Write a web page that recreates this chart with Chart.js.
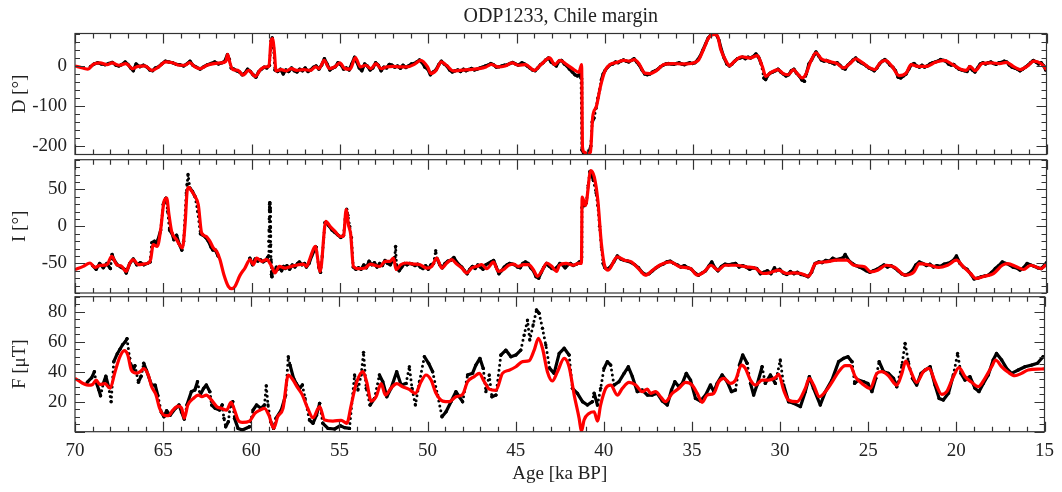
<!DOCTYPE html>
<html>
<head>
<meta charset="utf-8">
<title>ODP1233, Chile margin</title>
<script src="https://cdn.jsdelivr.net/npm/chart.js@4.4.1/dist/chart.umd.min.js"></script>
<style>
  body { margin: 0; background: #fff; }
  #wrap { position: relative; width: 1062px; height: 492px; }
  #wrap canvas { position: absolute; left: 0; top: 0; }
</style>
</head>
<body>
<div id="wrap">
  <canvas id="chartD" width="1062" height="492"></canvas>
  <canvas id="chartI" width="1062" height="492"></canvas>
  <canvas id="chartF" width="1062" height="492"></canvas>
</div>
<script>
// tick labels
const dTicks = [-200, -100, 0];
const iTicks = [-50, 0, 50];
const fTicks = [20, 40, 60, 80];

// declination: smoothed model [age ka, deg]
const dModel = [
  [70,0],[69.56,-5],[69.27,-8],[68.97,4],[68.58,7.5],[68.19,3],[67.9,7.5],[67.51,1.7],[67.12,6],[66.73,-6.7],
  [66.44,-1],[66.04,0],[65.65,-11],[65.26,-2.5],[64.87,10],[64.48,8],[64.09,1.7],[63.8,1.7],[63.51,8.3],[63.21,-2.5],
  [62.92,-6.7],[62.53,1.7],[62.14,6],[61.75,7.5],[61.46,11.7],[61.36,29],[61.27,14],[61.07,-9],[60.77,-11],[60.48,-23],
  [60.18,-11],[59.79,-26],[59.5,-9],[59.21,-2.5],[59.02,-1],[58.9,64],[58.82,68],[58.72,39],[58.62,-12.5],[58.33,-9],
  [58.04,-12.5],[57.75,-6.7],[57.45,-11],[57.06,-9],[56.67,-11],[56.38,-2.5],[56.18,-6.7],[55.89,14],[55.6,-6.7],[55.3,-2.5],
  [55.01,7.5],[54.72,-6.7],[54.42,-8],[54.13,21],[53.84,-2.5],[53.55,1.7],[53.25,-6.7],[52.96,6],[52.67,-6.7],[52.38,-2.5],
  [51.99,-1],[51.6,-2.5],[51.21,-2.5],[50.82,3.3],[50.43,14],[50.04,-2.5],[49.85,-19],[49.56,-11],[49.26,10],[48.97,1.7],
  [48.58,-12.5],[48.19,-11],[47.7,-9],[47.12,-6.7],[46.73,-2.5],[46.43,4],[46.04,-2.5],[45.65,0],[45.26,7.5],[44.87,1.7],
  [44.5,3.4],[44.0,-11],[43.62,3.4],[43.13,20],[42.84,3.4],[42.55,14],[42.16,3.4],[41.76,-9],[41.47,-16],[41.32,3.4],
  [41.27,-203],[41.18,-215],[40.98,-219],[40.82,-215],[40.69,-127],[40.49,-102],[40.25,-51],[40.0,-13],[39.71,3.4],[39.31,9],
  [38.92,14],[38.63,12],[38.33,16],[38.04,3.4],[37.75,-18],[37.45,-19],[37.06,-11],[36.67,3.4],[36.18,6],[35.59,5],
  [35.0,7.6],[34.71,14],[34.42,41],[34.12,70.6],[33.83,79],[33.63,75],[33.44,41],[33.14,12],[32.95,1],[32.65,12],
  [32.26,23],[31.77,20],[31.38,26],[31.09,-1],[30.89,-26],[30.6,-16],[30.2,-9],[29.91,-19],[29.62,-22],[29.32,-9],
  [29.13,-18],[28.83,-30],[28.64,-22],[28.34,12],[28.05,33],[27.75,18],[27.36,12],[26.87,6],[26.48,-5],[26.09,7.6],
  [25.8,18],[25.4,7.6],[25.01,-5],[24.72,-9],[24.42,7.6],[24.13,14],[23.74,-1],[23.35,-24],[22.95,-18],[22.66,3.4],
  [22.27,-1],[21.78,-1],[21.29,9],[20.8,14],[20.31,3.4],[19.82,-9],[19.53,-11],[19.33,-1],[19.04,-12],[18.64,6],
  [18.15,7.6],[17.66,6],[17.27,9],[16.88,-1],[16.49,-9],[16.1,-1],[15.71,12],[15.32,6],[15.0,-9]
];

// declination: measurements
const dData = [
  [69.13,-2],[68.92,5],[68.72,8],[68.51,5],[68.3,3],[68.09,6],[67.89,9],[67.68,2],[67.52,0],[67.37,3],
  [67.16,10],[67.0,4],[66.85,-5],[66.7,-12],[66.54,5],[66.33,-2],[66.13,2],[65.92,-3],[65.77,-10],[65.61,-12],
  [65.45,-5],[65.3,-3],[65.09,5],[64.89,12],[64.68,10],[64.47,8],[64.27,4],[64.06,3],[63.85,0],[63.64,6],
  [63.49,12],[63.33,2],[63.13,-3],[62.92,-8],[62.71,-2],[62.5,3],[62.3,6],[62.09,10],[61.88,5],[61.68,8],
  [61.52,12],[61.37,28],[61.26,16],[61.16,-5],[61.0,-8],[60.85,-12],[60.69,-15],[60.54,-22],[60.38,-18],[60.23,-8],
  [60.07,-14],[59.92,-22],[59.76,-28],[59.61,-15],[59.45,-8],[59.3,-3],[59.14,-5],[58.99,2],[58.9,62],[58.83,70],
  [58.76,45],[58.68,-10],[58.52,-14],[58.37,-8],[58.21,-20],[58.06,-10],[57.9,-14],[57.74,-5],[57.59,-12],[57.43,-15],
  [57.28,-8],[57.12,-12],[56.97,-5],[56.81,-14],[56.66,-10],[56.5,-3],[56.35,0],[56.19,-8],[56.04,2],[55.88,18],
  [55.73,5],[55.57,-10],[55.41,-5],[55.26,-2],[55.11,8],[54.95,3],[54.79,-8],[54.64,-5],[54.48,-10],[54.33,5],
  [54.17,22],[54.07,12],[53.91,-5],[53.76,-12],[53.6,5],[53.45,0],[53.29,-10],[53.14,-5],[52.98,8],[52.83,2],
  [52.67,-12],[52.52,-3],[52.36,-5],[52.21,4],[52.05,2],[51.9,-3],[51.74,0],[51.58,-6],[51.43,2],[51.27,-4],
  [51.12,0],[50.96,5],[50.81,6],[50.65,10],[50.5,15],[50.34,8],[50.19,-3],[50.03,-8],[49.88,-22],[49.72,-15],
  [49.57,-10],[49.41,3],[49.26,12],[49.1,5],[48.95,0],[48.79,-10],[48.64,-15],[48.48,-12],[48.33,-10],[48.17,-14],
  [48.01,-8],[47.86,-12],[47.71,-9],[47.55,-6],[47.39,-10],[47.24,-8],[47.08,-5],[46.93,-3],[46.77,0],[46.62,2],
  [46.46,6],[46.31,3],[46.15,-3],[45.99,-2],[45.84,0],[45.68,2],[45.53,3],[45.37,6],[45.22,9],[45.06,5],
  [44.91,2],[44.7,8],[44.55,5],[44.4,0],[44.25,-5],[44.1,-10],[43.95,-12],[43.8,-5],[43.65,3],[43.5,8],
  [43.35,15],[43.2,20],[43.05,10],[42.9,5],[42.75,0],[42.6,12],[42.45,14],[42.3,5],[42.15,0],[42.0,-8],
  [41.85,-15],[41.7,-22],[41.55,-25],[41.42,-20],[41.35,-30],[41.3,-210],[41.2,-218],[41.1,-220],[41.0,-219],[40.9,-215],
  [40.8,-200],[40.72,-140],[40.62,-130],[40.5,-105],[40.4,-80],[40.3,-60],[40.2,-35],[40.1,-20],[40.0,-12],[39.85,-3],
  [39.7,3],[39.55,5],[39.4,10],[39.25,8],[39.1,12],[38.95,15],[38.8,12],[38.65,10],[38.5,14],[38.35,18],
  [38.2,10],[38.05,2],[37.9,-10],[37.75,-20],[37.6,-22],[37.45,-20],[37.3,-15],[37.15,-12],[37.0,-8],[36.85,-2],
  [36.7,2],[36.55,5],[36.4,6],[36.25,5],[36.1,4],[35.95,6],[35.8,8],[35.65,5],[35.5,3],[35.35,6],
  [35.2,8],[35.05,6],[34.9,8],[34.75,15],[34.6,25],[34.45,40],[34.3,55],[34.15,70],[34.0,78],[33.85,80],
  [33.7,79],[33.55,65],[33.4,40],[33.25,20],[33.1,5],[32.95,0],[32.8,5],[32.65,12],[32.5,18],[32.35,20],
  [32.2,22],[32.05,18],[31.9,22],[31.75,20],[31.6,24],[31.45,30],[31.3,22],[31.15,5],[31.0,-30],[30.9,-34],
  [30.8,-25],[30.65,-18],[30.5,-15],[30.35,-12],[30.2,-8],[30.05,-15],[29.9,-20],[29.75,-25],[29.6,-22],[29.45,-12],
  [29.3,-8],[29.15,-18],[29.0,-25],[28.85,-35],[28.7,-38],[28.6,-20],[28.45,5],[28.3,15],[28.15,28],[28.05,35],
  [27.9,25],[27.75,15],[27.6,12],[27.45,14],[27.3,10],[27.15,8],[27.0,5],[26.85,8],[26.7,2],[26.55,-5],
  [26.4,-8],[26.25,2],[26.1,8],[25.95,15],[25.8,20],[25.65,12],[25.5,8],[25.35,5],[25.2,0],[25.05,-5],
  [24.9,-8],[24.75,-12],[24.6,-5],[24.45,5],[24.3,12],[24.15,16],[24.0,10],[23.85,2],[23.7,-3],[23.55,-12],
  [23.4,-28],[23.25,-30],[23.1,-25],[22.95,-20],[22.8,-8],[22.65,3],[22.5,6],[22.35,0],[22.2,-3],[22.05,2],
  [21.9,-3],[21.75,0],[21.6,5],[21.45,8],[21.3,10],[21.15,12],[21.0,16],[20.85,14],[20.7,12],[20.55,5],
  [20.4,2],[20.25,4],[20.1,-3],[19.95,-8],[19.8,-10],[19.65,-12],[19.5,-14],[19.35,-2],[19.2,-10],[19.05,-15],
  [18.9,-5],[18.75,5],[18.6,8],[18.45,5],[18.3,8],[18.15,10],[18.0,6],[17.85,4],[17.7,8],[17.55,9],
  [17.4,12],[17.25,10],[17.1,2],[16.95,-3],[16.8,-5],[16.65,-8],[16.5,-12],[16.35,-8],[16.2,-3],[16.05,2],
  [15.9,8],[15.75,14],[15.6,10],[15.45,5],[15.3,8],[15.15,0],[15.05,-10]
];

// inclination: smoothed model
const iModel = [
  [70,-58.5],[69.53,-54],[69.15,-49.5],[68.87,-55.4],[68.58,-52.7],[68.2,-51.8],[67.92,-40.5],[67.64,-51.8],[67.36,-54],[67.11,-60.8],
  [66.89,-49.5],[66.7,-45],[66.42,-51.8],[66.13,-50.9],[65.85,-49.5],[65.72,-45],[65.57,-24.8],[65.34,-27],[65.15,-4.5],[64.96,33.7],
  [64.81,38.2],[64.68,15.7],[64.53,-6.8],[64.25,-18],[63.92,-29.2],[63.77,2.2],[63.64,49.5],[63.55,52.6],[63.45,49.5],[63.21,40.5],
  [63.02,29.2],[62.83,-9],[62.58,-13.5],[62.36,-20.2],[62.17,-29.2],[61.98,-33.7],[61.79,-45],[61.57,-65.3],[61.32,-81],[61.13,-84.2],
  [60.94,-81],[60.66,-66.2],[60.38,-56.3],[60.09,-45],[59.91,-51.8],[59.72,-42.8],[59.43,-47.3],[59.15,-45],[58.87,-54],[58.68,-63],
  [58.43,-54],[58.11,-56.3],[57.74,-54],[57.36,-51.8],[57.08,-50.9],[56.89,-54],[56.69,-42.8],[56.4,-27],[56.12,-60.8],[55.8,6.8],
  [55.56,0],[55.28,-6.8],[54.99,-13.5],[54.8,-13.5],[54.65,22.5],[54.52,2.2],[54.39,-11.3],[54.24,-54],[53.95,-57.2],[53.58,-56.3],
  [53.29,-50.9],[53.01,-52.7],[52.73,-54],[52.44,-47.3],[52.16,-47.3],[51.97,-42.8],[51.82,-58.5],[51.56,-51.8],[51.22,-49.5],[50.84,-50.9],
  [50.46,-51.8],[50.09,-56.3],[49.8,-54],[49.52,-42.8],[49.24,-56.3],[48.95,-49.5],[48.67,-45],[48.39,-50.9],[48.1,-56.3],[47.82,-63],
  [47.54,-56.3],[47.26,-54],[46.97,-51.8],[46.69,-57.2],[46.31,-48.2],[46.03,-60.8],[45.75,-58.5],[45.46,-52.7],[45.18,-50.9],[44.9,-54],
  [44.61,-51.8],[44.33,-51.8],[44.05,-58.5],[43.82,-67.5],[43.58,-60.8],[43.29,-49.5],[43.01,-54],[42.73,-60.8],[42.58,-52.7],[42.2,-50],
  [41.8,-52.5],[41.5,-50],[41.33,-50],[41.29,39.5],[41.1,28.3],[40.8,75.3],[40.6,66.4],[40.4,35],[40.2,-23.3],[40.0,-54.7],
  [39.82,-59.2],[39.3,-41.3],[38.9,-45.7],[38.5,-48],[38.1,-57],[37.7,-65.9],[37.3,-59.2],[36.9,-52.5],[36.3,-48],[35.75,-54.7],
  [35.16,-57],[34.77,-65.9],[34.38,-61.4],[33.99,-52.5],[33.6,-59.2],[33.2,-52.5],[32.6,-52.5],[32.0,-54.7],[31.45,-57],[31.06,-63.7],
  [30.67,-62.8],[30.18,-59.2],[29.7,-63.7],[29.3,-62.8],[28.9,-63.7],[28.47,-67.3],[28.08,-50.2],[27.5,-48],[26.9,-45.7],[26.3,-45.7],
  [25.9,-52.5],[25.3,-54.7],[24.95,-61.4],[24.56,-59.2],[24.07,-52.5],[23.58,-55.6],[23.0,-65.9],[22.5,-61.4],[22.2,-50.2],[21.6,-52.5],
  [21.1,-55.6],[20.6,-52.5],[20.1,-45.7],[19.7,-54.7],[19.3,-63.7],[19.0,-70.4],[18.5,-67.3],[18.0,-63.7],[17.5,-52.5],[17.2,-50.2],
  [16.7,-54.7],[16.3,-58.3],[15.9,-52.5],[15.3,-57],[15.0,-51]
];

// inclination: measurements
const iData = [
  [69.0,-53],[68.8,-58],[68.6,-50],[68.4,-56],[68.2,-50],[68.0,-57],[67.9,-38],[67.8,-45],[67.6,-52],[67.4,-55],
  [67.2,-58],[67.1,-63],[66.9,-50],[66.7,-44],[66.5,-52],[66.3,-49],[66.1,-52],[65.9,-50],[65.75,-48],[65.65,-22],
  [65.5,-20],[65.4,-26],[65.3,-18],[65.15,-5],[65.0,30],[64.85,38],[64.75,20],[64.65,-5],[64.5,-10],[64.4,-18],
  [64.25,-12],[64.1,-24],[63.95,-32],[63.85,-20],[63.7,45],[63.65,57],[63.6,70],[63.5,52],[63.35,47],[63.2,40],
  [63.05,20],[62.9,-10],[62.75,-12],[62.6,-15],[62.45,-20],[62.3,-28],[62.2,-32],[62.05,-32],[61.9,-40],
  [60.1,-43],[59.95,-52],[59.8,-44],[59.65,-47],[59.5,-45],[59.35,-48],[59.2,-46],[59.1,-42],[59.04,-40],[59.02,-20],
  [59.01,-5],[59.0,10],[58.99,22],[58.98,30],[58.97,32],[58.96,25],[58.95,20],[58.94,-2],[58.93,-13],[58.92,-25],
  [58.91,-34],[58.9,-45],[58.88,-65],[58.85,-68],[58.8,-60],[58.7,-62],[58.6,-55],[58.5,-58],[58.4,-55],[58.3,-60],
  [58.2,-54],[58.1,-57],[58.0,-53],[57.85,-58],[57.7,-52],[57.55,-55],[57.4,-50],[57.3,-48],[57.15,-52],[57.0,-50],
  [56.9,-55],[56.75,-50],[56.6,-40],[56.45,-32],[56.35,-28],[56.2,-55],[56.1,-62],[56.0,-40],[55.85,5],[55.75,4],
  [55.6,0],[55.45,-5],[55.3,-8],[55.1,-12],[54.95,-15],[54.8,-12],[54.7,10],[54.62,23],[54.55,15],[54.45,0],
  [54.35,-15],[54.25,-55],[54.1,-58],[53.95,-56],[53.8,-58],[53.65,-52],[53.5,-56],[53.35,-47],[53.2,-52],[53.05,-49],
  [52.9,-55],[52.75,-50],[52.6,-53],[52.45,-46],[52.3,-50],[52.15,-52],[52.0,-45],[51.9,-42],[51.85,-27],[51.8,-52],
  [51.65,-60],[51.5,-55],[51.35,-50],[51.2,-52],[51.05,-50],[50.9,-51],[50.75,-53],[50.6,-51],[50.45,-55],[50.3,-57],
  [50.15,-53],[50.0,-58],[49.85,-52],[49.7,-50],[49.58,-33],[49.5,-44],[49.35,-52],[49.2,-56],[49.05,-50],[48.9,-47],
  [48.75,-46],[48.55,-42],[48.4,-48],[48.25,-52],[48.1,-55],[47.95,-60],[47.8,-64],[47.65,-58],[47.5,-54],[47.35,-57],
  [47.2,-52],[47.05,-55],[46.9,-58],[46.75,-52],[46.6,-50],[46.45,-48],[46.3,-46],[46.15,-55],[46.0,-64],[45.85,-60],
  [45.7,-55],[45.55,-52],[45.4,-50],[45.25,-51],[45.1,-52],[44.95,-55],[44.8,-56],[44.65,-50],[44.5,-48],[44.35,-50],
  [44.2,-56],[44.05,-60],[43.9,-68],[43.75,-70],[43.6,-62],[43.45,-55],[43.3,-50],[43.15,-54],[43.0,-57],[42.85,-58],
  [42.7,-55],[42.55,-50],[42.4,-52],[42.25,-56],[42.1,-52],[41.95,-50],[41.8,-53],[41.6,-51],[41.45,-48],[41.35,-47],
  [41.3,25],[41.25,35],[41.15,28],[41.05,32],[40.95,55],[40.85,74],[40.75,70],[40.65,62],[40.5,45],[40.4,28],
  [40.3,0],[40.2,-28],[40.1,-50],[40.0,-56],[39.85,-58],[39.7,-55],[39.5,-48],[39.3,-40],[39.1,-44],[38.9,-46],
  [38.7,-47],[38.5,-49],[38.3,-52],[38.1,-56],[37.9,-62],[37.7,-65],[37.5,-64],[37.3,-60],[37.1,-56],[36.9,-53],
  [36.7,-51],[36.5,-48],[36.3,-47],[36.1,-50],[35.9,-52],[35.7,-55],[35.5,-53],[35.3,-56],[35.1,-58],[34.9,-63],
  [34.7,-66],[34.5,-63],[34.3,-60],[34.1,-53],[33.95,-48],[33.8,-55],[33.6,-60],[33.4,-54],[33.2,-51],[33.0,-52],
  [32.8,-51],[32.6,-50],[32.4,-55],[32.2,-53],[32.0,-55],[31.8,-58],[31.6,-56],[31.4,-57],[31.2,-64],[31.0,-62],
  [30.8,-60],[30.6,-64],[30.4,-56],[30.3,-60],[30.1,-58],[29.9,-63],[29.7,-65],[29.5,-61],[29.3,-64],[29.1,-62],
  [28.9,-65],[28.7,-66],[28.5,-68],[28.3,-62],[28.1,-50],[27.9,-48],[27.7,-49],[27.5,-46],[27.3,-47],[27.1,-43],
  [26.9,-45],[26.7,-44],[26.5,-42],[26.4,-38],[26.2,-46],[26.0,-50],[25.8,-53],[25.6,-55],[25.4,-57],[25.2,-60],
  [25.0,-62],[24.8,-60],[24.6,-58],[24.4,-55],[24.2,-52],[24.0,-55],[23.8,-53],[23.6,-56],[23.4,-60],[23.2,-64],
  [23.0,-66],[22.8,-64],[22.6,-60],[22.4,-52],[22.2,-48],[22.0,-50],[21.8,-53],[21.6,-51],[21.4,-55],[21.2,-53],
  [21.0,-54],[20.8,-51],[20.6,-50],[20.4,-48],[20.2,-44],[20.1,-40],[19.9,-50],[19.7,-55],[19.5,-58],[19.3,-64],
  [19.1,-71],[18.9,-70],[18.7,-68],[18.5,-67],[18.3,-66],[18.1,-62],[17.9,-57],[17.7,-53],[17.5,-48],[17.3,-50],
  [17.1,-52],[16.9,-55],[16.7,-56],[16.5,-59],[16.3,-56],[16.1,-50],[15.9,-52],[15.7,-54],[15.5,-56],[15.3,-57],
  [15.1,-52],[15.0,-49]
];

// intensity: smoothed model [age ka, uT]
const fModel = [
  [70,35.6],[69.25,31],[69.0,31.5],[68.8,34.4],[68.6,31.5],[68.3,32],[68.0,29],[67.75,39],[67.45,50],[67.2,54],
  [67.0,51],[66.8,41],[66.5,39],[66.3,40],[66.1,42],[65.85,38],[65.65,30],[65.4,24.4],[65.2,15.6],[64.95,11],
  [64.7,10.7],[64.45,14.4],[64.15,17],[63.95,15.6],[63.8,9],[63.6,17.8],[63.3,22],[63.0,24.4],[62.8,23.3],[62.55,24.4],
  [62.25,21],[61.95,16.7],[61.7,15.6],[61.4,14.4],[61.15,19.6],[60.95,14.4],[60.75,7.8],[60.5,6.2],[60.1,7.1],[59.8,12.2],
  [59.5,14.4],[59.25,15.6],[59.0,11],[58.73,2.2],[58.5,10],[58.2,15.6],[57.9,37.8],[57.7,35.6],[57.35,29],[57.1,24.4],
  [56.8,15.6],[56.5,9.3],[56.12,16.7],[55.84,7.8],[55.37,7.1],[54.9,7.6],[54.58,5.6],[54.33,17.8],[54.05,32],[53.67,40],
  [53.45,33],[53.2,20.4],[52.92,23.3],[52.63,32],[52.39,24.4],[52.07,29],[51.75,32],[51.41,30],[51.07,28.4],[50.69,25.6],
  [50.37,33.3],[50.09,37.8],[49.8,34.4],[49.52,25.6],[49.14,20.4],[48.77,20],[48.39,23.3],[48.01,24.9],[47.73,33.3],[47.35,36.7],
  [47.07,38.9],[46.78,33.3],[46.5,28.4],[46.12,27.6],[45.75,38.9],[45.37,41],[44.99,43.3],[44.61,46.7],[44.24,47.3],[43.95,54.4],
  [43.71,62.2],[43.48,55.6],[43.2,40],[42.92,33.8],[42.63,40],[42.25,48.9],[41.97,43.3],[41.68,24.4],[41.4,8.9],[41.27,0],
  [41.12,7.8],[40.84,12.2],[40.55,13.3],[40.36,7.1],[40.18,17.8],[39.89,28.9],[39.61,31.1],[39.23,24.4],[38.95,28.9],[38.57,32.9],
  [38.19,31.1],[37.82,26.7],[37.53,28.4],[37.35,25.6],[37.06,26.7],[36.78,23.3],[36.5,20],[36.12,25.6],[35.74,28.9],[35.36,32.9],
  [34.99,31.1],[34.7,25.6],[34.42,19.6],[34.14,24.4],[33.76,25.6],[33.48,33.3],[33.19,35.6],[32.82,32.2],[32.53,34.4],[32.19,44.4],
  [31.97,42.2],[31.68,34.4],[31.4,31.1],[31.02,34.4],[30.65,34.4],[30.27,36],[30.08,38.2],[29.8,27.8],[29.52,21.1],[29.04,20],
  [28.57,28.9],[28.34,35.6],[28.1,31.1],[27.77,23.3],[27.43,26.7],[27.06,32.9],[26.68,40],[26.3,44],[26.02,44],[25.74,36.7],
  [25.36,32.2],[24.89,28.9],[24.51,38.9],[24.23,40],[23.85,37.3],[23.38,31.1],[23.09,38.9],[22.87,47.1],[22.62,41.1],[22.25,32.9],
  [21.87,40],[21.55,42.2],[21.21,33.3],[20.83,24.9],[20.55,26.7],[20.17,36.7],[19.85,42.7],[19.51,36.7],[19.13,32.9],[18.76,30],
  [18.38,35.6],[18.0,43.3],[17.77,47.8],[17.43,43.3],[17.06,39.6],[16.68,37.3],[16.3,38.9],[15.93,41.1],[15.17,41.8],[15.0,42]
];

// intensity: measurements
const fData = [
  [69.3,33],[69.05,36],[68.9,40],[68.8,33],[68.65,28],[68.55,24],[68.4,32],[68.25,37],[68.1,30],[67.95,20],
  [67.8,46.7],[67.6,52],[67.45,55],[67.3,58],[67.15,60],[67.05,62],[66.9,49],[66.8,44],[66.7,41],[66.6,44],
  [66.4,33],[66.25,37],[66.1,45.6],[65.95,41],[65.65,31],[65.45,31],[65.3,24],[65.1,13],[64.95,10],[64.8,14],
  [64.6,11],[64.3,15.6],[64.1,17.8],[63.95,13],[63.8,8.4],[63.65,17.8],[63.4,26.7],[63.2,27.8],[63.05,33.3],[62.9,24.4],
  [62.7,28.9],[62.55,31.1],[62.35,26.7],[62.25,17.8],[62.05,15.6],[61.8,14.4],[61.65,17.8],[61.55,8.9],[61.45,3.3],[61.3,6.7],
  [61.2,16.7],[61.05,20],[60.95,8.9],[60.75,2.2],[60.5,1.1],[60.1,3.3],[59.9,14.4],[59.7,17.8],[59.45,15.6],[59.25,17.8],
  [59.15,30.7],[59.05,17.8],[58.9,6.7],[58.73,2.2],[58.6,8.9],[58.3,14.4],[58.05,24.4],[57.9,50],[57.8,44.4],[57.6,35.6],
  [57.45,32.2],[57.25,28.9],[57.1,31.1],[56.95,22.2],[56.7,7.8],[56.5,5.6],[56.3,11],[56.12,18.9],[55.94,5.6],[55.65,2.2],
  [55.27,1.8],[54.95,4],[54.71,2.7],[54.43,2.2],[54.14,37.8],[53.95,27.8],[53.77,37.8],[53.63,52.9],[53.48,28.9],[53.26,17.8],
  [53.01,22.2],[52.73,37.8],[52.54,33.3],[52.31,23.3],[52.07,28.9],[51.75,40],[51.5,31.1],[51.22,32.2],[51.03,43.3],[50.88,28.9],
  [50.69,17.8],[50.46,33.3],[50.18,50],[49.94,45.6],[49.71,40],[49.43,24.4],[49.18,10],[48.95,13.3],[48.67,20],[48.39,26.7],
  [48.2,23.3],[48.01,20],[47.73,37.8],[47.45,38.9],[47.26,44.4],[47.03,48.9],[46.84,42.2],[46.69,26.7],[46.5,37.8],[46.35,23.3],
  [46.12,24.4],[45.84,51.1],[45.56,54.4],[45.27,50],[44.99,51.1],[44.71,54.4],[44.52,64.4],[44.33,74.4],[44.2,61.1],[44.01,71.1],
  [43.82,81.1],[43.67,78.9],[43.48,68.9],[43.29,57.8],[43.07,42.2],[42.82,38.9],[42.53,52.2],[42.25,55.6],[41.97,51.1],[41.78,28.9],
  [41.5,25.6],[41.21,20],[40.93,17.8],[40.65,20],[40.55,25.6],[40.36,17.8],[40.18,28.9],[39.99,42.2],[39.8,46.7],[39.61,44.4],
  [39.42,31.1],[39.14,33.3],[38.85,38.9],[38.61,43.3],[38.38,36.7],[38.1,26.7],[37.82,27.8],[37.53,24.4],[37.25,24.4],[36.97,25.6],
  [36.68,20.4],[36.4,17.8],[36.16,27.8],[35.97,33.3],[35.74,30],[35.55,32.2],[35.32,38.9],[35.08,34.4],[34.8,22.2],[34.52,20.4],
  [34.23,24.4],[33.95,31.1],[33.76,26.7],[33.57,32.2],[33.29,37.8],[33.0,33.3],[32.76,26.7],[32.53,27.8],[32.31,44.4],[32.12,51.1],
  [31.87,45.6],[31.68,32.2],[31.5,24.4],[31.31,31.1],[31.02,43.3],[30.84,32.2],[30.55,37.8],[30.27,32.2],[29.99,47.8],[29.8,31.1],
  [29.52,20],[29.23,18.9],[28.85,16.7],[28.57,26.7],[28.34,36.7],[28.1,28.9],[27.72,17.8],[27.43,26.7],[27.06,34.4],[26.68,46.7],
  [26.4,48.9],[26.15,50],[25.92,46.7],[25.77,32.2],[25.55,34.4],[25.26,33.3],[25.02,32.2],[24.79,26.7],[24.57,35.6],[24.38,46.7],
  [24.13,40],[23.85,38.9],[23.57,35.6],[23.38,30],[23.09,44.4],[22.91,58.9],[22.72,46.7],[22.49,35.6],[22.25,31.1],[22.0,38.9],
  [21.77,41.1],[21.49,43.3],[21.21,31.1],[20.98,22.2],[20.74,21.1],[20.45,25.6],[20.17,37.8],[19.93,52.2],[19.74,38.9],[19.51,34.4],
  [19.23,36.7],[18.94,28.9],[18.72,26.7],[18.47,32.2],[18.19,37.8],[17.91,47.8],[17.72,52.2],[17.43,47.8],[17.15,42.2],[16.87,38.9],
  [16.49,41.1],[16.11,43.3],[15.74,44.4],[15.4,45.6],[15.08,50]
];

Chart.defaults.font.family = '"Liberation Serif", "DejaVu Serif", serif';
Chart.defaults.font.size = 19;
Chart.defaults.color = '#222';

const toXY = arr => arr.map(p => ({ x: p[0], y: p[1] }));

// steep jumps between samples show as a column of dots, long age gaps stay empty
const wideGap = c => Math.abs(c.p1.x - c.p0.x) > 12;
const steep = c => Math.abs(c.p1.y - c.p0.y) > 4 * Math.max(Math.abs(c.p1.x - c.p0.x), 1);

// matplotlib-like frame with inward major/minor ticks on all four sides
const frameTicks = {
  id: 'frameTicks',
  afterDatasetsDraw(chart, args, opts) {
    const { ctx, chartArea: a, scales: { x, y } } = chart;
    ctx.save();
    ctx.strokeStyle = '#333';
    ctx.lineWidth = 1.2;
    ctx.beginPath();
    for (let v = 15; v <= 70; v++) {
      const px = Math.round(x.getPixelForValue(v)) + 0.5;
      const len = v % 5 === 0 ? 10 : 5;
      ctx.moveTo(px, a.top); ctx.lineTo(px, a.top + len);
      ctx.moveTo(px, a.bottom); ctx.lineTo(px, a.bottom - len);
    }
    for (let v = Math.ceil(y.min / opts.minor) * opts.minor; v <= y.max; v += opts.minor) {
      const py = Math.round(y.getPixelForValue(v)) + 0.5;
      const len = v % opts.major === 0 ? 10 : 5;
      ctx.moveTo(a.left, py); ctx.lineTo(a.left + len, py);
      ctx.moveTo(a.right, py); ctx.lineTo(a.right - len, py);
    }
    ctx.stroke();
    ctx.strokeRect(a.left, a.top, a.right - a.left, a.bottom - a.top);
    ctx.restore();
  }
};

function panel(id, model, data, yMin, yMax, ticks, minor, major, label, cfg) {
  return new Chart(document.getElementById(id), {
    type: 'line',
    data: {
      datasets: [
        {
          data: toXY(model),
          borderColor: '#ff0000',
          borderWidth: 3.2,
          pointRadius: 0,
          cubicInterpolationMode: 'monotone',
          order: 0
        },
        {
          data: toXY(data),
          borderColor: '#000',
          borderWidth: 3.2,
          borderCapStyle: 'round',
          borderJoinStyle: 'round',
          pointRadius: 1.7,
          pointBorderWidth: 0,
          pointBackgroundColor: '#000',
          tension: 0,
          order: 1,
          segment: {
            borderColor: c => wideGap(c) ? 'rgba(0,0,0,0)' : '#000',
            borderDash: c => steep(c) ? [0, 5] : [],
            borderWidth: c => steep(c) ? 3 : 3.2
          }
        }
      ]
    },
    options: {
      responsive: false,
      animation: false,
      devicePixelRatio: 1,
      layout: { padding: cfg.padding },
      plugins: {
        legend: { display: false },
        tooltip: { enabled: false },
        title: cfg.title || { display: false },
        frameTicks: { minor: minor, major: major }
      },
      scales: {
        x: {
          type: 'linear',
          reverse: true,
          min: 15,
          max: 70,
          grid: { display: false, drawTicks: false },
          border: { display: false },
          ticks: { display: cfg.showX, stepSize: 5, padding: 8, maxRotation: 0, autoSkip: false },
          title: cfg.xTitle || { display: false },
          afterFit: s => { s.height = cfg.xHeight; }
        },
        y: {
          min: yMin,
          max: yMax,
          grid: { display: false, drawTicks: false },
          border: { display: false },
          ticks: { padding: 8 },
          afterBuildTicks: s => { s.ticks = ticks.map(v => ({ value: v })); },
          title: { display: true, text: label, padding: { top: 9, bottom: 0 } },
          afterFit: s => { s.width = 75; }
        }
      }
    },
    plugins: [frameTicks]
  });
}

panel('chartD', dModel, dData, -221, 81, dTicks, 20, 100, 'D [°]', {
  padding: { left: 0, right: 15.5, top: 0, bottom: 337.5 },
  showX: false,
  xHeight: 0,
  title: {
    display: true,
    text: 'ODP1233, Chile margin',
    fullSize: false,
    font: { size: 20, weight: 'normal' },
    color: '#222',
    padding: { top: 5, bottom: 4.5 }
  }
});

panel('chartI', iModel, iData, -90, 90, iTicks, 10, 50, 'I [°]', {
  padding: { left: 0, right: 15.5, top: 159.7, bottom: 199 },
  showX: false,
  xHeight: 0
});

panel('chartF', fModel, fData, 0, 90, fTicks, 5, 20, 'F [μT]', {
  padding: { left: 0, right: 15.5, top: 296.7, bottom: 0 },
  showX: true,
  xHeight: 60.3,
  xTitle: { display: true, text: 'Age [ka BP]', padding: { top: 0, bottom: 6.6 } }
});
</script>
</body>
</html>
